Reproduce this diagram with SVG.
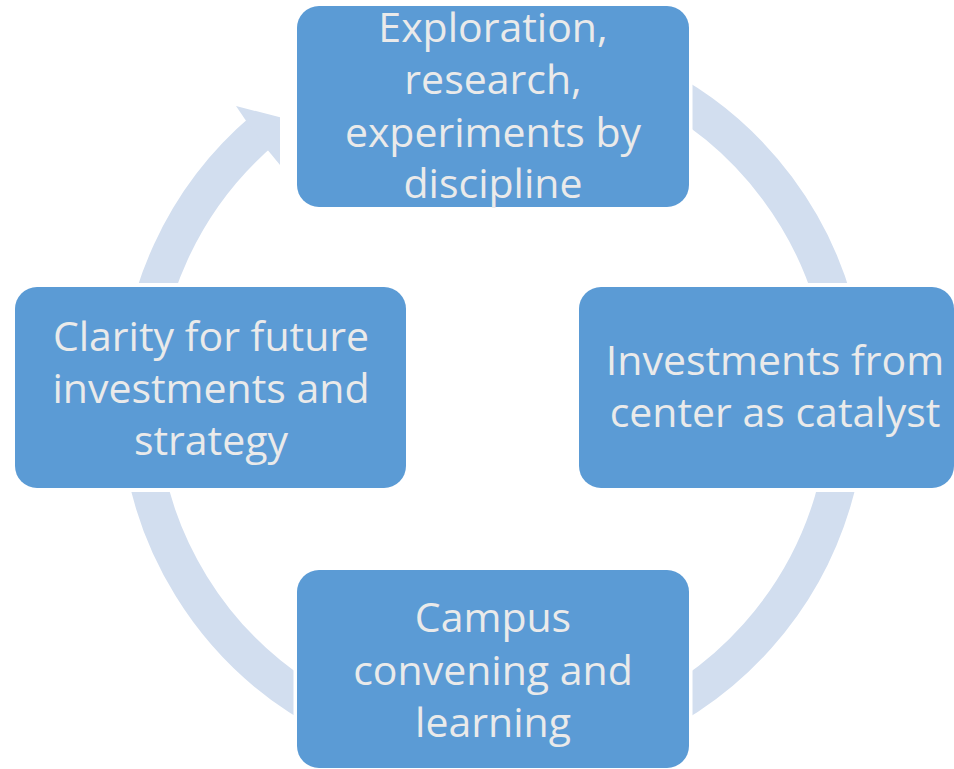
<svg xmlns="http://www.w3.org/2000/svg" width="954" height="769" viewBox="0 0 954 769">
  <style>
    .node rect { fill: #5B9BD5; }
    .node text { font-family: "Open Sans", "Noto Sans", sans-serif; font-size: 41px; fill: #EAEAEA; text-anchor: middle; }
    .ring { fill: none; stroke: #D2DEEF; stroke-width: 37; }
    .head { fill: #D2DEEF; }
  </style>
  <defs>
    <mask id="gaps" maskUnits="userSpaceOnUse" x="0" y="0" width="954" height="769">
      <rect x="0" y="0" width="954" height="769" fill="#fff"/>
      <rect x="293.5" y="2.5" width="399" height="208" fill="#000"/>
      <rect x="575.5" y="283" width="390" height="209" fill="#000"/>
      <rect x="293.5" y="566" width="399" height="210" fill="#000"/>
      <rect x="11.5" y="283" width="398" height="209" fill="#000"/>
    </mask>
  </defs>
  <g id="connectors" mask="url(#gaps)">
    <path class="ring" d="M 493 45.5 A 354.5 354.5 0 1 1 264.2 129.2"/>
    <polygon class="head" points="236,106 280,117.3 280,165 268.3,150.7 246.7,121.7"/>
  </g>
  <g id="node-exploration" class="node">
    <rect x="297" y="6" width="392" height="201" rx="22"/>
    <text x="493" y="42">Exploration,</text>
    <text x="493" y="94">research,</text>
    <text x="493" y="146.5">experiments by</text>
    <text x="493" y="198">discipline</text>
  </g>
  <g id="node-investments" class="node">
    <rect x="579" y="287" width="375" height="201" rx="22"/>
    <text x="775" y="375">Investments from</text>
    <text x="775" y="427">center as catalyst</text>
  </g>
  <g id="node-campus" class="node">
    <rect x="297" y="570" width="392" height="198" rx="22"/>
    <text x="493" y="632">Campus</text>
    <text x="493" y="684.5">convening and</text>
    <text x="493" y="737">learning</text>
  </g>
  <g id="node-clarity" class="node">
    <rect x="15" y="287" width="391" height="201" rx="22"/>
    <text x="211" y="351">Clarity for future</text>
    <text x="211" y="403">investments and</text>
    <text x="211" y="455">strategy</text>
  </g>
</svg>
